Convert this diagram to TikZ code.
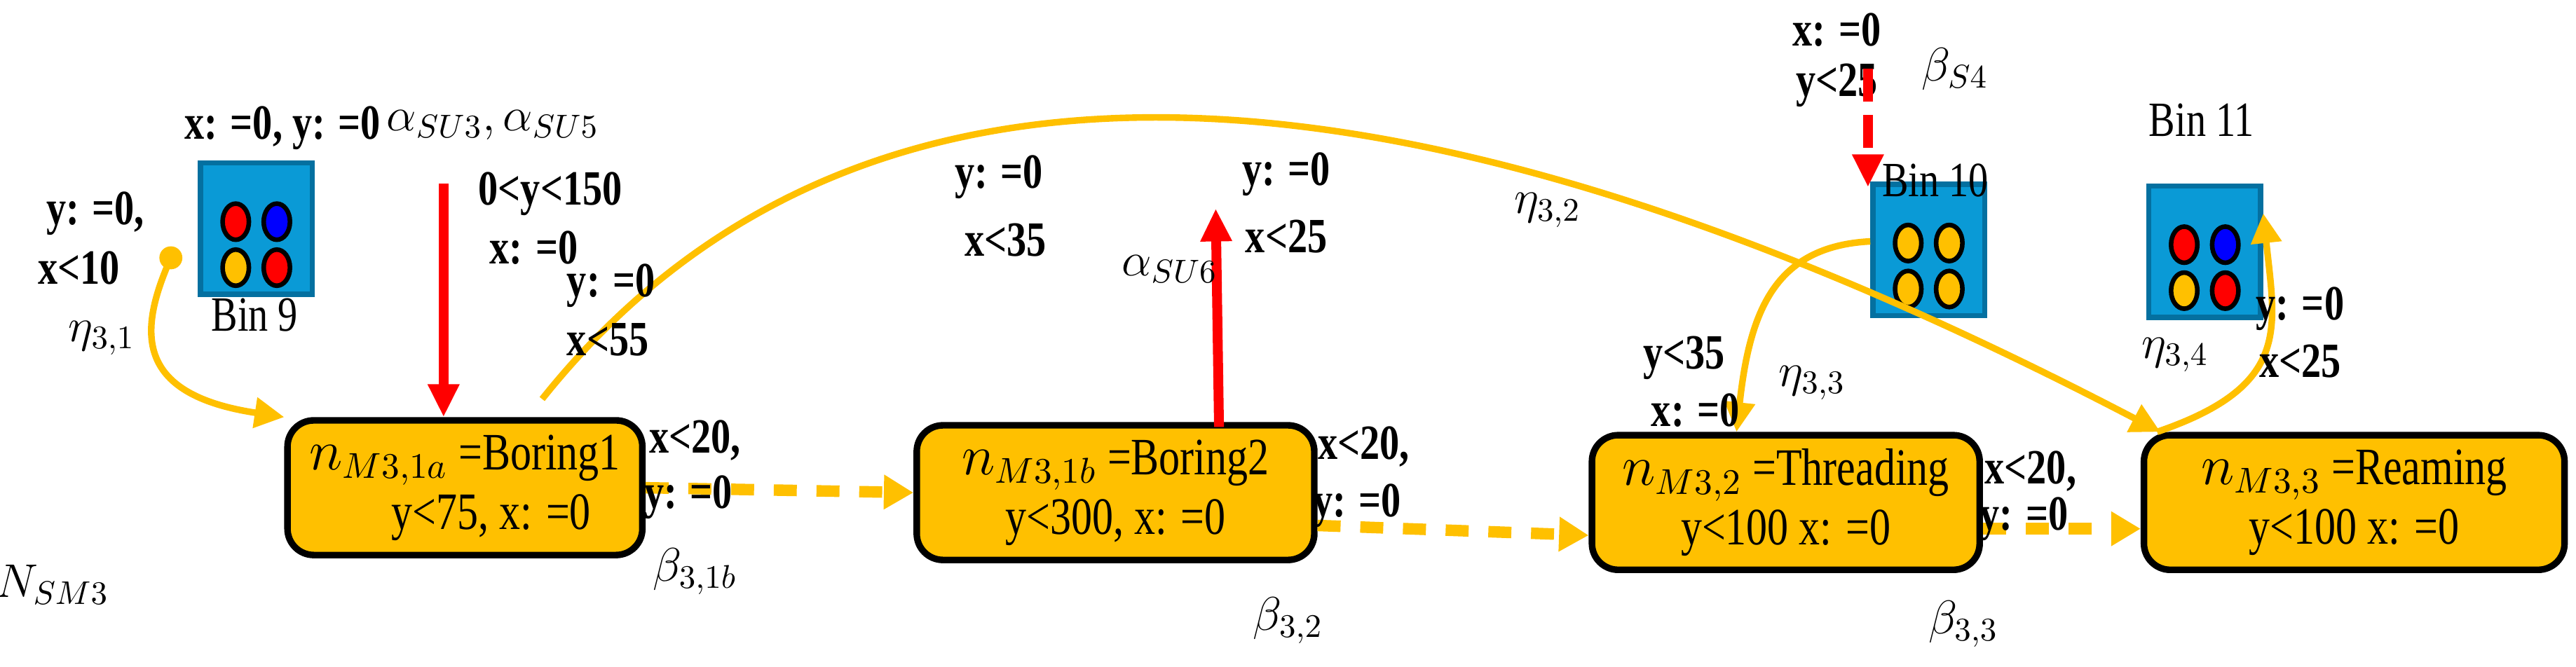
\documentclass[tikz,border=0pt]{standalone}
\usepackage{fontspec}
\setmainfont[FakeStretch=0.8]{Liberation Serif}
\usetikzlibrary{shapes.geometric,arrows.meta,calc}
\definecolor{yel}{HTML}{FFC000}
\definecolor{binblue}{HTML}{0A9AD6}
\definecolor{bintop}{HTML}{70C8EC}
\definecolor{bindark}{HTML}{0470A0}
\definecolor{redc}{HTML}{FF0000}
\definecolor{bluec}{HTML}{0000FF}
\begin{document}
\begin{tikzpicture}[x=0.5pt,y=-0.5pt,
  lab/.style={font=\fontsize{15}{17}\selectfont\bfseries, inner sep=1pt},
  plain/.style={font=\fontsize{15}{17}\selectfont, inner sep=1pt},
  mlab/.style={font=\fontsize{14}{17}\selectfont, inner sep=1pt},
  mach/.style={draw=black, line width=2pt, fill=yel, rounded corners=8pt, minimum width=108pt, minimum height=41pt, align=center, font=\fontsize{16}{18}\selectfont, inner sep=2pt},
  bin/.style={cylinder, shape border rotate=90, aspect=0.22, minimum width=34pt, minimum height=40pt, draw=bindark, line width=1.6pt, cylinder uses custom fill, cylinder body fill=binblue, cylinder end fill=bintop, inner sep=0pt},
  yarr/.style={draw=yel, line width=2pt, -{Triangle[length=9pt,width=9pt]}},
  ydash/.style={draw=yel, line width=3.5pt, dash pattern=on 7pt off 6pt, -{Triangle[length=9pt,width=10pt]}},
  rarr/.style={draw=redc, line width=3pt, -{Triangle[length=10pt,width=9pt]}}
]
\useasboundingbox (0,0) rectangle (1568,406);
\newcommand\binballs[4]{%
  \draw[black,line width=1.4pt,fill=#1] (-12.5,-5) ellipse (8 and 11);
  \draw[black,line width=1.4pt,fill=#2] (12.5,-5) ellipse (8 and 11);
  \draw[black,line width=1.4pt,fill=#3] (-12.5,23) ellipse (8 and 11);
  \draw[black,line width=1.4pt,fill=#4] (12.5,23) ellipse (8 and 11);}

% machines
\node[mach] (m1) at (283,297) {$n_{M3,1a}$ =Boring1\\ \quad y<75, x: =0};
\node[mach, minimum width=121pt] (m2) at (679,300) {$n_{M3,1b}$ =Boring2\\ y<300, x: =0};
\node[mach, minimum width=118pt] (m3) at (1087,306) {$n_{M3,2}$ =Threading\\ y<100 x: =0};
\node[mach, minimum width=128pt] (m4) at (1433,306) {$n_{M3,3}$ =Reaming\\ y<100 x: =0};

% bins
\node[bin] (b9) at (156,140) {};
\begin{scope}[shift={(b9.center)}]\binballs{redc}{bluec}{yel}{redc}\end{scope}
\node[plain] (b9l) at (155,192) {Bin 9};
\node[bin] (b10) at (1174,153) {};
\begin{scope}[shift={(b10.center)}]\binballs{yel}{yel}{yel}{yel}\end{scope}
\node[plain] (b10l) at (1178,110) {Bin 10};
\node[bin] (b11) at (1342,154) {};
\begin{scope}[shift={(b11.center)}]\binballs{redc}{bluec}{yel}{redc}\end{scope}
\node[plain] (b11l) at (1340,73) {Bin 11};

% labels top left
\node[lab] (l1) at (172,78) {x: =0, y: =0};
\node[mlab] (al) at (300,76) {$\alpha_{SU3}, \alpha_{SU5}$};
\node[lab] (l2) at (335,118) {0<y<150};
\node[lab] (l3) at (325,151) {x: =0};
\node[lab] (l4) at (58,130) {y: =0,};
\node[lab] (l5) at (48,163) {x<10};
\node[mlab] (e31) at (62,206) {$\eta_{3,1}$};
\node[mlab] (nsm) at (32,356) {$N_{SM3}$};

% red input arrow
\coordinate (rin) at (270,112);
\draw[rarr] (rin) -- (m1.north -| rin);

% eta 3,1
\fill[yel] (104,157) circle (7);
\coordinate (d9) at (104,157);
\draw[yarr] (d9) .. controls (85,200) and (80,240) .. (m1.north west);

% big arc eta 3,2
\coordinate (arcs) at (330,243);
\draw[yarr] (arcs) .. controls (520,5) and (850,20) .. ([xshift=6]m4.north west);
\node[lab] (l6) at (372,174) {y: =0};
\node[lab] (l7) at (370,207) {x<55};
\node[lab] (l8) at (608,108) {y: =0};
\node[lab] (l9) at (612,146) {x<35};
\node[mlab] (e32) at (942,128) {$\eta_{3,2}$};

% alpha SU6
\coordinate (aout) at (740,127);
\draw[rarr] (742,260) -- (aout);
\node[mlab] (asu6) at (712,164) {$\alpha_{SU6}$};
\node[lab] (l10) at (783,106) {y: =0};
\node[lab] (l11) at (783,144) {x<25};

% dashed transitions
\draw[ydash] (m1.east) -- (m2.west);
\draw[ydash] ([yshift=-10]m2.east) -- ([yshift=-10]m3.west);
\draw[ydash] ([yshift=-8]m3.east) -- ([yshift=-8]m4.west);
\node[lab] (l12) at (423,268) {x<20,};
\node[lab] (l13) at (419,303) {y: =0};
\node[mlab] (b31) at (423,348) {$\beta_{3,1b}$};
\node[lab] (l14) at (830,272) {x<20,};
\node[lab] (l15) at (826,308) {y: =0};
\node[mlab] (b32) at (784,378) {$\beta_{3,2}$};
\node[lab] (l16) at (1236,287) {x<20,};
\node[lab] (l17) at (1232,316) {y: =0};
\node[mlab] (b33) at (1195,380) {$\beta_{3,3}$};

% beta S4
\node[lab] (l18) at (1118,18) {x: =0};
\node[lab] (l19) at (1118,52) {y<25};
\node[mlab] (bs4) at (1190,42) {$\beta_{S4}$};
\coordinate (bsin) at (1137,42);
\draw[draw=redc, line width=3pt, dash pattern=on 10pt off 4pt, -{Triangle[length=10pt,width=9pt]}] (bsin) -- (1137,114);

% eta 3,3
\draw[yarr] ([yshift=3]b10.west) .. controls (1080,150) and (1065,190) .. ([xshift=-15]m3.north);
\node[lab] (l20) at (1025,218) {y<35};
\node[lab] (l21) at (1032,250) {x: =0};
\node[mlab] (e33) at (1103,233) {$\eta_{3,3}$};

% eta 3,4
\draw[yarr] ([xshift=-60]m4.north) .. controls (1395,235) and (1385,200) .. ([yshift=12]b11.east);
\node[lab] (l22) at (1400,188) {y: =0};
\node[lab] (l23) at (1400,220) {x<25};
\node[mlab] (e34) at (1324,216) {$\eta_{3,4}$};
\end{tikzpicture}
\end{document}
